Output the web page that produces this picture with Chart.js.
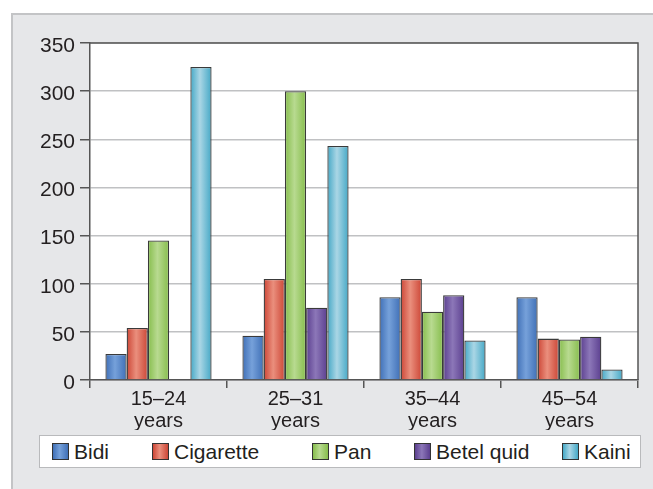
<!DOCTYPE html>
<html>
<head>
<meta charset="utf-8">
<script src="https://cdn.jsdelivr.net/npm/chart.js@4"></script>
<style>
  html, body { margin: 0; padding: 0; background: #ffffff; }
  #wrap { position: relative; width: 653px; height: 489px; overflow: hidden; }
  #frame { position: absolute; left: 11px; top: 13px; right: 0; bottom: 0;
           background: #e6e7e9; border-left: 2px solid #c3c4c6; border-top: 2px solid #c3c4c6; }
  #chart { position: absolute; left: 0; top: 0; }
  #legend { position: absolute; left: 39px; top: 435px; width: 602px; height: 33px;
            box-sizing: border-box; background: #ffffff; border: 1px solid #b9babc;
            font-family: "Liberation Sans", Arial, sans-serif; font-size: 21px; color: #231f20; }
  #legend .item { position: absolute; top: 0; height: 31px; display: flex; align-items: center; white-space: nowrap; }
  #legend .sw { width: 15px; height: 15px; border: 1px solid #333; margin-right: 5px; }
</style>
</head>
<body>
<div id="wrap">
  <div id="frame"></div>
  <canvas id="chart" width="653" height="489"></canvas>
  <div id="legend"></div>
</div>
<script>
// Age groups (two-line labels) and tobacco product counts
const categories = [["15–24", "years"], ["25–31", "years"], ["35–44", "years"], ["45–54", "years"]];
const seriesNames = ["Bidi", "Cigarette", "Pan", "Betel quid", "Kaini"];
const bidi      = [27, 46, 86, 86];
const cigarette = [54, 105, 105, 43];
const pan       = [145, 300, 71, 42];
const betelQuid = [0, 75, 88, 45];
const kaini     = [325, 243, 41, 11];
const yTicks    = [0, 50, 100, 150, 200, 250, 300, 350];

// edge / highlight shades for the cylinder-like bar fill
const shades = [
  ["#3f6fb6", "#76a1da"],
  ["#cc4636", "#ea8f7d"],
  ["#86bd4c", "#b8da90"],
  ["#5b3f8f", "#8c77b8"],
  ["#44a8c6", "#aad6e5"]
];
const seriesValues = [bidi, cigarette, pan, betelQuid, kaini];

// horizontal offsets of the legend entries inside the legend box
const legendOffsets = [12, 112, 272, 374, 522];

const CAT_PCT = 0.775;

function barFill(ctx) {
  const chart = ctx.chart;
  const [edge, hi] = shades[ctx.datasetIndex];
  const x = chart.scales && chart.scales.x;
  if (!chart.chartArea || !x || ctx.dataIndex === undefined) return edge;
  const catW = x.width / categories.length;
  const barW = catW * CAT_PCT / seriesNames.length;
  const center = x.getPixelForValue(ctx.dataIndex);
  const left = center - catW * CAT_PCT / 2 + ctx.datasetIndex * barW;
  const g = chart.ctx.createLinearGradient(left, 0, left + barW, 0);
  g.addColorStop(0, edge);
  g.addColorStop(0.45, hi);
  g.addColorStop(1, edge);
  return g;
}

// white plot background and dark frame around the plot area
const plotFrame = {
  id: "plotFrame",
  beforeDraw(chart) {
    const a = chart.chartArea, c = chart.ctx;
    c.save();
    c.fillStyle = "#ffffff";
    c.fillRect(a.left, a.top, a.right - a.left, a.bottom - a.top);
    c.restore();
  },
  afterDraw(chart) {
    const a = chart.chartArea, c = chart.ctx;
    c.save();
    c.strokeStyle = "#555555";
    c.lineWidth = 1.5;
    c.beginPath();
    c.moveTo(a.left, a.top);
    c.lineTo(a.right, a.top);
    c.lineTo(a.right, a.bottom);
    c.stroke();
    c.restore();
  }
};

new Chart(document.getElementById("chart"), {
  type: "bar",
  data: {
    labels: categories,
    datasets: seriesNames.map((name, i) => ({
      label: name,
      data: seriesValues[i],
      backgroundColor: barFill,
      borderColor: "#3a3a3a",
      borderWidth: 1.3,
      categoryPercentage: CAT_PCT,
      barPercentage: 1.0
    }))
  },
  options: {
    responsive: false,
    animation: false,
    layout: { padding: { top: 43, right: 15, bottom: 59, left: 0 } },
    plugins: { legend: { display: false }, tooltip: { enabled: false } },
    scales: {
      x: {
        offset: true,
        grid: { display: true, drawOnChartArea: false, drawTicks: true, tickLength: 8,
                offset: true, color: "#555555", lineWidth: 1.5 },
        border: { display: true, color: "#555555", width: 1.5 },
        ticks: { color: "#231f20", padding: 0,
                 font: { family: "'Liberation Sans', Arial, sans-serif", size: 20, lineHeight: 1.13 } },
        afterFit(s) { s.height = 50; }
      },
      y: {
        min: 0, max: 350,
        afterBuildTicks(s) { s.ticks = yTicks.map(v => ({ value: v })); },
        grid: { color: "#c0c1c3", lineWidth: 1.5, tickLength: 10, tickColor: "#555555" },
        border: { display: true, color: "#555555", width: 1.5 },
        ticks: { color: "#231f20", padding: 5, labelOffset: 3,
                 font: { family: "'Liberation Sans', Arial, sans-serif", size: 21 } },
        afterFit(s) { s.width = 90; }
      }
    }
  },
  plugins: [plotFrame]
});

// legend row
const legend = document.getElementById("legend");
seriesNames.forEach((name, i) => {
  const item = document.createElement("div");
  item.className = "item";
  item.style.left = legendOffsets[i] + "px";
  const sw = document.createElement("span");
  sw.className = "sw";
  sw.style.background = `linear-gradient(to right, ${shades[i][0]}, ${shades[i][1]} 45%, ${shades[i][0]})`;
  const t = document.createElement("span");
  t.textContent = name;
  item.appendChild(sw);
  item.appendChild(t);
  legend.appendChild(item);
});
</script>
</body>
</html>
